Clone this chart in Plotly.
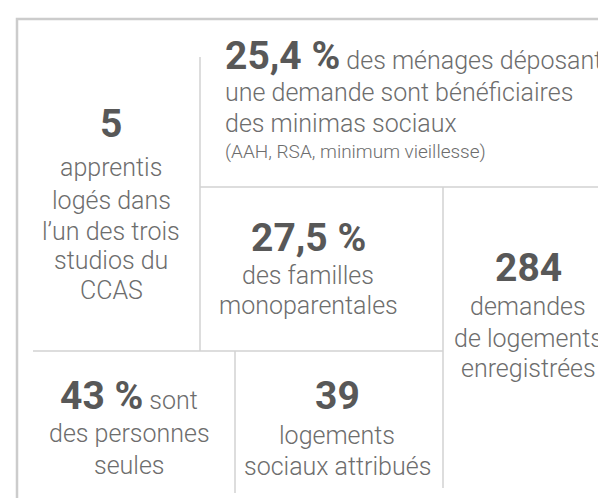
import plotly.graph_objects as go

# chiffres clés et libellés
valeurs = ["5", "25,4 %", "27,5 %", "284", "43 %", "39"]
suites = ["", " des ménages déposant", "", "", " sont", ""]
lignes = [
    ["apprentis", "logés dans", "l’un des trois", "studios du", "CCAS"],
    ["une demande sont bénéficiaires", "des minimas sociaux"],
    ["des familles", "monoparentales"],
    ["demandes", "de logements", "enregistrées"],
    ["des personnes", "seules"],
    ["logements", "sociaux attribués"],
]
note = "(AAH, RSA, minimum vieillesse)"

GRIS_CHIFFRE = "#585858"
GRIS_TEXTE = "#6d6d6d"
GRIS_TRAIT = "#d2d2d2"
POLICE = "Roboto"

# position de chaque bloc : x, ancrage, y de chaque ligne
blocs = [
    (103, "center", [116, 159, 192, 223, 252, 282]),
    (215, "left", [48, 84, 115]),
    (300, "center", [230, 267, 297]),
    (520, "center", [260, 298, 330, 360]),
    (121, "center", [388, 425, 457]),
    (329, "center", [388, 427, 458]),
]

fig = go.Figure()
annotations = []
for i, (x, ancre, ys) in enumerate(blocs):
    titre = "<span style='font-size:39px;color:%s'><b>%s</b></span>%s" % (GRIS_CHIFFRE, valeurs[i], suites[i])
    textes = [titre] + lignes[i]
    for t, y in zip(textes, ys):
        annotations.append(dict(x=x, y=y, xref="x", yref="y", text=t, showarrow=False,
                                xanchor=ancre, yanchor="middle",
                                font=dict(family=POLICE, size=25, color=GRIS_TEXTE, weight=300)))
annotations.append(dict(x=215, y=143, xref="x", yref="y", text=note, showarrow=False,
                        xanchor="left", yanchor="middle",
                        font=dict(family=POLICE, size=19, color=GRIS_TEXTE, weight=300)))

traits = [
    (192, 49, 192, 343),
    (192, 179, 597, 179),
    (435, 179, 435, 480),
    (25, 343, 435, 343),
    (227, 343, 227, 485),
]
shapes = [dict(type="rect", xref="x", yref="y", x0=9, y0=11, x1=640, y1=497,
               line=dict(color="#cccccc", width=2.5))]
for x0, y0, x1, y1 in traits:
    shapes.append(dict(type="line", xref="x", yref="y", x0=x0, y0=y0, x1=x1, y1=y1,
                       line=dict(color=GRIS_TRAIT, width=1.5)))

fig.update_layout(
    width=606, height=498,
    margin=dict(l=0, r=0, t=0, b=0),
    paper_bgcolor="white", plot_bgcolor="white",
    xaxis=dict(range=[0, 606], visible=False, fixedrange=True),
    yaxis=dict(range=[498, 0], visible=False, fixedrange=True),
    annotations=annotations,
    shapes=shapes,
    showlegend=False,
)

fig.write_html("out.html")
